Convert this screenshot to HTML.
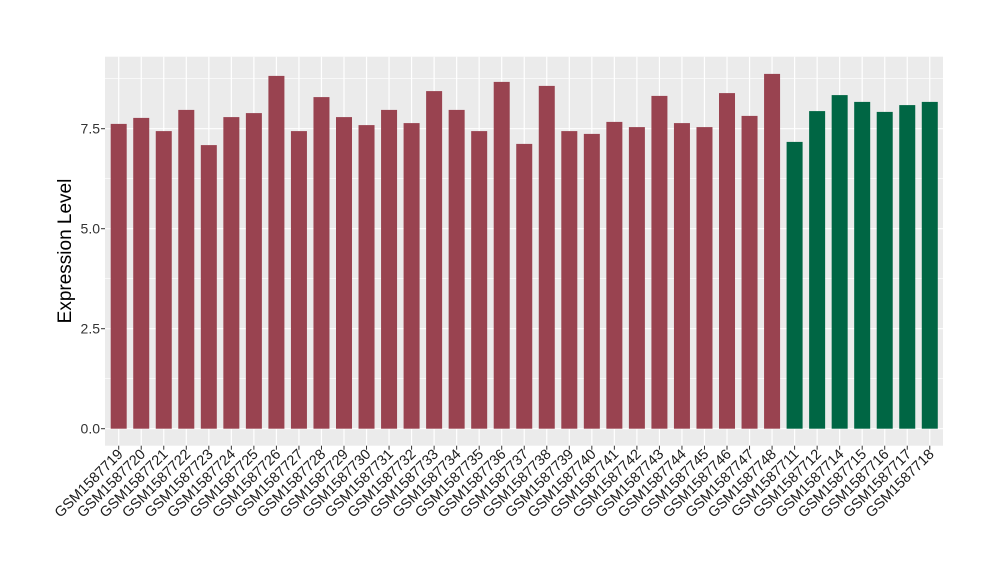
<!DOCTYPE html>
<html><head><meta charset="utf-8"><style>body{margin:0;background:#fff}</style></head><body>
<svg width="1000" height="580" xmlns="http://www.w3.org/2000/svg" font-family="Liberation Sans, sans-serif">
<rect x="105" y="56.7" width="838" height="389" fill="#EBEBEB"/>
<g id="g"></g>
<text transform="translate(71,251) rotate(-90)" text-anchor="middle" font-size="19" fill="#000">Expression Level</text>
<g font-size="14" fill="#333" text-anchor="end">
<text x="100" y="433.5">0.0</text><text x="100" y="333.5">2.5</text><text x="100" y="233.5">5.0</text><text x="100" y="133.5">7.5</text>
</g>
<g stroke="#333" stroke-width="1"><line x1="101" x2="105" y1="428.7" y2="428.7"/><line x1="101" x2="105" y1="328.7" y2="328.7"/><line x1="101" x2="105" y1="228.7" y2="228.7"/><line x1="101" x2="105" y1="128.7" y2="128.7"/></g>
<g id="b"></g>
</svg>
<script>
var v=[7.62,7.77,7.44,7.97,7.09,7.79,7.89,8.82,7.44,8.29,7.79,7.59,7.97,7.64,8.44,7.97,7.44,8.67,7.12,8.57,7.44,7.37,7.67,7.54,8.32,7.64,7.54,8.39,7.82,8.87,7.17,7.94,8.34,8.17,7.92,8.09,8.17];
var n=["GSM1587719","GSM1587720","GSM1587721","GSM1587722","GSM1587723","GSM1587724","GSM1587725","GSM1587726","GSM1587727","GSM1587728","GSM1587729","GSM1587730","GSM1587731","GSM1587732","GSM1587733","GSM1587734","GSM1587735","GSM1587736","GSM1587737","GSM1587738","GSM1587739","GSM1587740","GSM1587741","GSM1587742","GSM1587743","GSM1587744","GSM1587745","GSM1587746","GSM1587747","GSM1587748","GSM1587711","GSM1587712","GSM1587714","GSM1587715","GSM1587716","GSM1587717","GSM1587718"];
var s='',g='';
for(var k=0;k<=7;k++){var y=428.7-k*1.25*40;g+='<line x1="105" x2="943" y1="'+y+'" y2="'+y+'" stroke="#fff" stroke-width="'+(k%2?0.6:1.2)+'"/>';}
for(var i=0;i<37;i++){var c=118.7+i*22.53;
g+='<line x1="'+c+'" x2="'+c+'" y1="56.7" y2="445.7" stroke="#fff" stroke-width="1.2"/>';
var t=428.7-v[i]*40;
s+='<rect x="'+(c-8)+'" y="'+t+'" width="16" height="'+(428.7-t)+'" fill="'+(i<30?'#994350':'#006644')+'"/>';
s+='<line x1="'+c+'" x2="'+c+'" y1="445.7" y2="449.7" stroke="#333"/>';
s+='<text transform="translate('+(c+5)+',455) rotate(-45)" text-anchor="end" font-size="14.5" fill="#1a1a1a">'+n[i]+'</text>';}
document.getElementById('g').innerHTML=g;document.getElementById('b').innerHTML=s;
</script>
</body></html>
